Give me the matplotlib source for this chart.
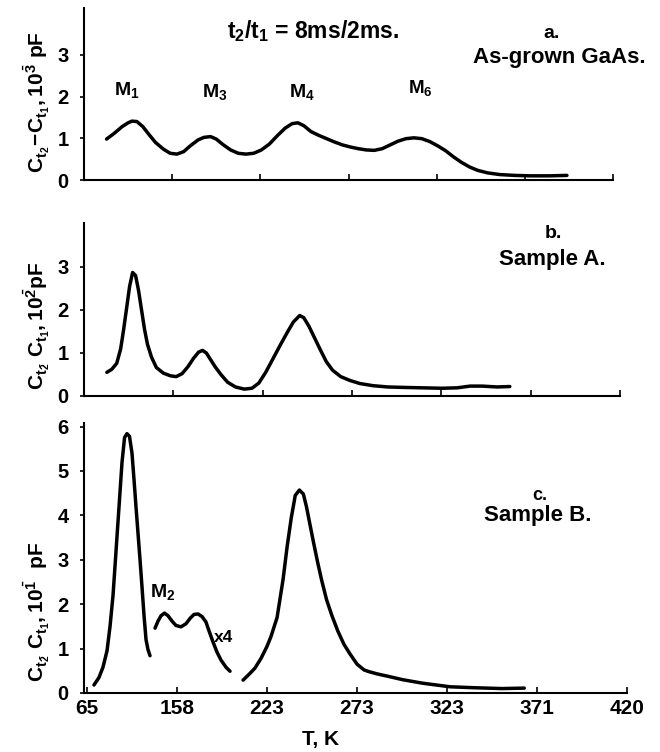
import numpy as np
import matplotlib
matplotlib.use("Agg")
import matplotlib.pyplot as plt

plt.rcParams['font.family'] = ['Liberation Sans', 'DejaVu Sans']
plt.rcParams['font.weight'] = 'bold'
plt.rcParams['mathtext.fontset'] = 'custom'
plt.rcParams['mathtext.rm'] = 'Liberation Sans:bold'
plt.rcParams['mathtext.it'] = 'Liberation Sans:bold'
plt.rcParams['mathtext.bf'] = 'Liberation Sans:bold'

# temperature ticks (equally spaced on the plot)
tick_T = [65, 158, 223, 273, 323, 371, 420]
tick_labels = ['65', '158', '223', '273', '323', '371', '420']

# a. as-grown GaAs (10^-3 pF)
T_a = [88.8, 97.0, 105.3, 111.5, 115.6, 120.8, 127.0, 133.2, 140.4, 148.7, 155.9,
       161.5, 166.5, 171.4, 177.1, 181.3, 186.3, 190.5, 195.4, 201.1, 206.7, 212.4,
       218.1, 223.6, 228.1, 232.6, 237.0, 241.0, 244.3, 247.7, 251.7, 256.1, 260.6,
       265.1, 269.6, 274.1, 278.6, 283.1, 287.6, 292.1, 296.6, 301.1, 305.6, 310.1,
       314.6, 319.1, 323.5, 327.9, 332.3, 336.6, 341.0, 345.4, 350.8, 357.4, 365.5,
       373.8, 384.9, 394.4]
C_a = [0.98, 1.12, 1.28, 1.37, 1.41, 1.40, 1.28, 1.10, 0.90, 0.74, 0.64,
       0.62, 0.68, 0.82, 0.96, 1.02, 1.04, 0.98, 0.85, 0.72, 0.64, 0.62,
       0.64, 0.72, 0.86, 1.06, 1.24, 1.35, 1.37, 1.30, 1.16, 1.07, 0.99,
       0.91, 0.84, 0.79, 0.75, 0.72, 0.71, 0.75, 0.84, 0.93, 0.99, 1.01,
       0.99, 0.92, 0.82, 0.70, 0.55, 0.42, 0.31, 0.23, 0.17, 0.13, 0.11,
       0.10, 0.10, 0.11]

# b. sample A (10^-2 pF)
T_b = [88.8, 93.9, 99.1, 103.2, 106.3, 109.4, 112.5, 115.6, 118.7, 121.8, 124.9,
       128.0, 131.1, 135.3, 140.4, 147.7, 154.9, 160.1, 164.4, 168.6, 172.8, 176.4,
       179.2, 182.0, 184.8, 188.4, 192.6, 197.5, 203.2, 209.6, 215.2, 220.2, 224.7,
       228.7, 232.8, 236.8, 240.2, 243.7, 246.0, 248.9, 251.7, 255.2, 258.6, 262.1,
       266.7, 271.9, 277.4, 284.7, 293.0, 301.3, 312.4, 323.5, 331.5, 338.5, 344.9,
       352.9, 359.8]
C_b = [0.55, 0.62, 0.76, 1.10, 1.55, 2.05, 2.55, 2.87, 2.80, 2.45, 2.00,
       1.55, 1.20, 0.90, 0.66, 0.53, 0.47, 0.45, 0.52, 0.68, 0.88, 1.02,
       1.06, 1.00, 0.86, 0.68, 0.50, 0.32, 0.21, 0.16, 0.18, 0.30, 0.55,
       0.86, 1.18, 1.48, 1.72, 1.87, 1.82, 1.62, 1.38, 1.08, 0.80, 0.60,
       0.45, 0.36, 0.29, 0.24, 0.21, 0.20, 0.19, 0.18, 0.19, 0.23, 0.23,
       0.21, 0.22]

# c. sample B (10^-1 pF), three pieces, middle one x4
T_c1 = [72.2, 77.4, 81.5, 85.7, 88.8, 91.9, 95.0, 98.1, 101.2, 103.8, 106.3,
        108.9, 111.5, 113.6, 115.6, 117.7, 119.8, 121.8, 123.9, 126.0, 128.0, 130.1]
C_c1 = [0.18, 0.35, 0.58, 0.95, 1.50, 2.20, 3.20, 4.20, 5.20, 5.75, 5.84,
        5.78, 5.40, 4.80, 4.20, 3.60, 3.00, 2.40, 1.75, 1.20, 0.98, 0.84]
T_c2 = [135.3, 138.4, 141.5, 145.1, 148.7, 152.8, 157.0, 160.9, 164.5, 167.4,
        170.3, 173.2, 176.1, 178.9, 181.1, 184.0, 186.9, 189.8, 193.4, 196.3]
C_c2 = [1.46, 1.62, 1.74, 1.80, 1.74, 1.62, 1.52, 1.49, 1.56, 1.68,
        1.77, 1.78, 1.72, 1.60, 1.40, 1.15, 0.92, 0.74, 0.58, 0.49]
T_c3 = [205.7, 210.0, 214.3, 218.7, 223.0, 225.2, 228.6, 231.9, 234.2, 236.5,
        238.7, 241.0, 243.2, 244.9, 246.6, 248.8, 251.1, 253.3, 256.1, 259.0,
        262.3, 265.7, 269.1, 273.0, 276.9, 279.7, 284.2, 290.9, 298.3, 309.5,
        324.6, 336.6, 352.2, 364.2]
C_c3 = [0.29, 0.42, 0.56, 0.78, 1.05, 1.27, 1.70, 2.55, 3.30, 3.95,
        4.45, 4.57, 4.48, 4.20, 3.85, 3.40, 2.95, 2.55, 2.10, 1.75,
        1.40, 1.10, 0.88, 0.65, 0.52, 0.48, 0.43, 0.37, 0.30, 0.22,
        0.14, 0.12, 0.10, 0.11]

TT = np.array(tick_T, float)
IDX = np.arange(len(tick_T), dtype=float)


def fwd(t):
    t = np.asarray(t, float)
    p = np.interp(t, TT, IDX)
    p = np.where(t < TT[0], (t - TT[0]) / (TT[1] - TT[0]), p)
    p = np.where(t > TT[-1], IDX[-1] + (t - TT[-1]) / (TT[-1] - TT[-2]), p)
    return p


def inv(p):
    p = np.asarray(p, float)
    t = np.interp(p, IDX, TT)
    t = np.where(p < 0, TT[0] + p * (TT[1] - TT[0]), t)
    t = np.where(p > IDX[-1], TT[-1] + (p - IDX[-1]) * (TT[-1] - TT[-2]), t)
    return t


W, H = 660, 752
fig = plt.figure(figsize=(W / 100, H / 100), dpi=100)


def px_axes(l, r, t, b):
    return fig.add_axes([l / W, 1 - b / H, (r - l) / W, (b - t) / H])


def style(ax, xleft, ytop, yticks, xlabels):
    ax.set_xscale('function', functions=(fwd, inv))
    ax.set_xlim(xleft, 420)
    ax.set_ylim(0, ytop)
    ax.set_xticks(tick_T)
    ax.set_xticklabels(tick_labels if xlabels else [])
    ax.set_yticks(yticks)
    ax.minorticks_off()
    for s in ['top', 'right']:
        ax.spines[s].set_visible(False)
    for s in ['left', 'bottom']:
        ax.spines[s].set_linewidth(1.5)
    ax.tick_params(axis='x', direction='in', length=4, width=1.2, pad=4, labelsize=15)
    ax.tick_params(axis='y', direction='out', length=3, width=1.2, pad=8, labelsize=14.5)


lw = 2.5
ax_a = px_axes(84, 613, 8, 180)
ax_a.plot(T_a, C_a, color='black', lw=lw, solid_capstyle='round')
style(ax_a, 71.2, 4.12, [0, 1, 2, 3], False)

ax_b = px_axes(84, 620, 223, 396)
ax_b.plot(T_b, C_b, color='black', lw=lw, solid_capstyle='round')
style(ax_b, 68.1, 4.02, [0, 1, 2, 3], False)

ax_c = px_axes(84, 627, 423, 693)
for tx, cy in [(T_c1, C_c1), (T_c2, C_c2), (T_c3, C_c3)]:
    ax_c.plot(tx, cy, color='black', lw=lw, solid_capstyle='round')
style(ax_c, 61.9, 6.08, [0, 1, 2, 3, 4, 5, 6], True)


def ftext(x, y, s, size=12.5, **kw):
    fig.text(x / W, 1 - y / H, s, fontsize=size, ha='center', va='center', **kw)


ftext(313, 31, r'$\mathregular{t_2/t_1}$ = 8ms/2ms.', 16.5)
ftext(552, 33, 'a.', 14)
ftext(559, 58, 'As-grown GaAs.', 16)
ftext(127, 90, r'M$_1$', 14)
ftext(215, 92, r'M$_3$', 14)
ftext(302, 92, r'M$_4$', 14)
ftext(420, 88, r'M$_6$', 13.5)
ftext(553, 234, 'b.', 14)
ftext(552, 259, 'Sample A.', 16)
ftext(540, 495, 'c.', 13)
ftext(538, 516, 'Sample B.', 16)
ftext(163, 592, r'M$_2$', 14)
ftext(224, 637, 'x4', 12.5)
ftext(320, 740, 'T, K', 15)

ftext(37, 102, r'$\mathregular{C_{t_2}\!-\!C_{t_1}, 10^{\bar{3}}\ pF}$', 15, rotation=90)
ftext(37, 326, r'$\mathregular{C_{t_{\bar{2}}}\ C_{t_1}, 10^{\bar{2}}pF}$', 15, rotation=90)
ftext(37, 612, r'$\mathregular{C_{t_{\bar{2}}}\ C_{t_1}, 10^{\bar{1}}\ \ pF}$', 15, rotation=90)

fig.savefig('out.png', dpi=100)
